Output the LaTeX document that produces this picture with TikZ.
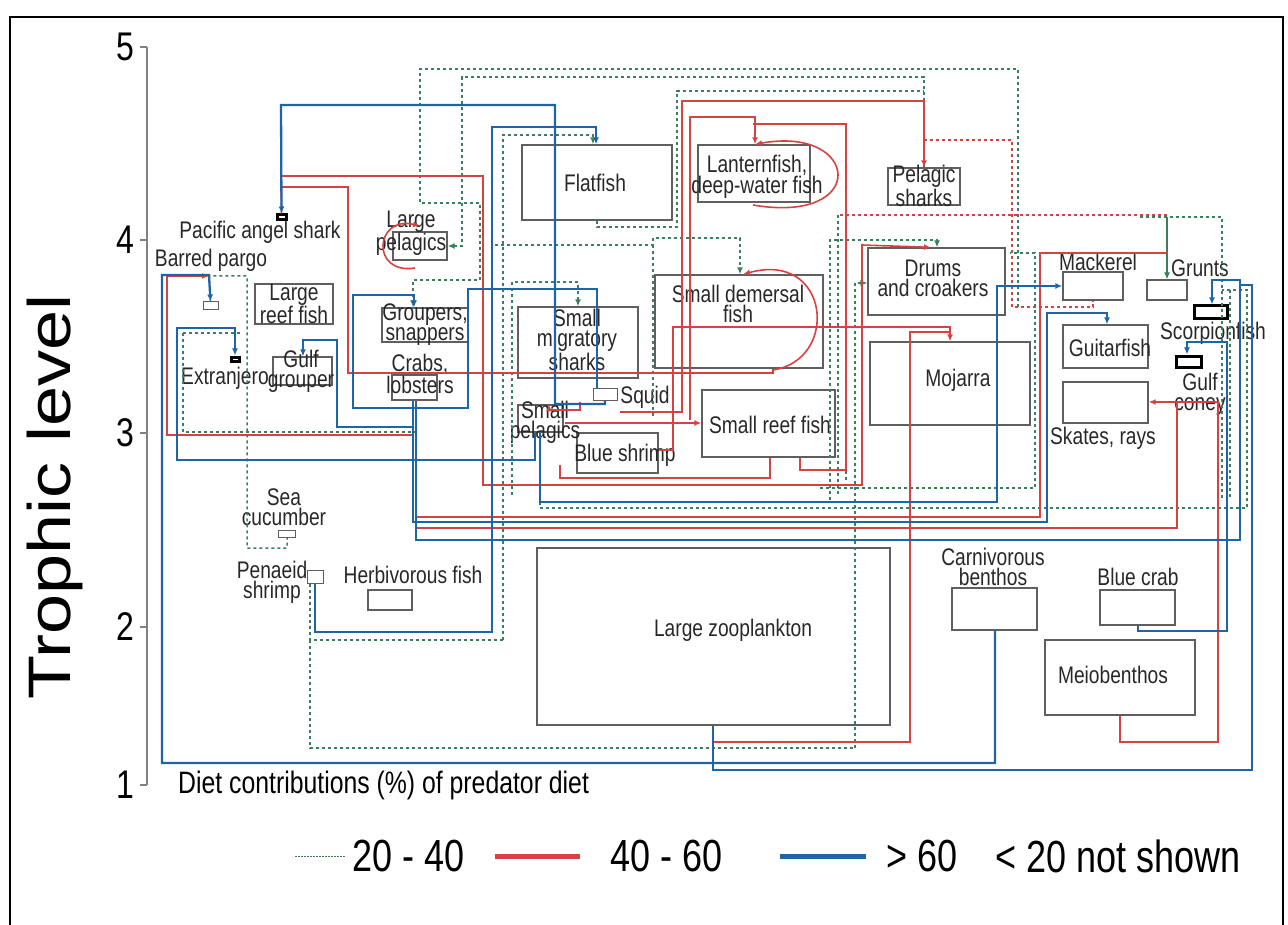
\documentclass[tikz,border=0pt]{standalone}
\usepackage{fontspec}
\setmainfont{Liberation Sans}[FakeStretch=0.8]
\newfontfamily\tallfont{Liberation Sans}[FakeStretch=1.2]
\usetikzlibrary{arrows.meta,fit}
\definecolor{blueweb}{RGB}{32,100,168}
\definecolor{redweb}{RGB}{214,66,66}
\definecolor{greenweb}{RGB}{58,128,92}
\definecolor{boxgray}{RGB}{95,95,95}
\definecolor{txtgray}{RGB}{40,40,40}
\begin{document}
\begin{tikzpicture}[x=1pt, y=-1pt, >={Latex[length=7pt,width=6pt]},
  box/.style={draw=boxgray, line width=1.3pt, inner sep=0pt},
  tinybox/.style={draw=boxgray, line width=1pt, inner sep=0pt},
  blkbox/.style={draw=black, line width=3pt, inner sep=0pt},
  lbl/.style={font=\fontsize{24}{20}\selectfont, align=center, text=txtgray, inner sep=0pt},
  legtxt/.style={font=\fontsize{45}{45}\selectfont, anchor=west, inner sep=0pt},
  bl/.style={draw=blueweb, line width=2.3pt},
  rd/.style={draw=redweb, line width=1.6pt},
  gr/.style={draw=greenweb, line width=1.5pt, dash pattern=on 3pt off 3pt},
  rdd/.style={draw=redweb, line width=1.5pt, dash pattern=on 3pt off 3pt}]
\useasboundingbox (0,0) rectangle (1288,925);
%Rahmen und Achse
\draw[line width=2pt] (10,925) -- (10,17) -- (1283,17) -- (1283,925);
\draw[gray, line width=1.5pt] (147,47) -- (147,785);
\foreach \v/\y in {5/47,4/240,3/433,2/627,1/785}{
  \draw[gray, line width=1.5pt] (140,\y) -- (147,\y);
  \node[font=\fontsize{40}{40}\selectfont, anchor=east, inner sep=0pt] (tick\v) at (134,\y) {\v};
}
\node[font=\tallfont\fontsize{60}{60}\selectfont, rotate=90, inner sep=0pt] (ylab) at (55,497) {Trophic level};

%Boxen
\node[box, fit={(522,145) (672,220)}] (flat) {};
\node[box, fit={(698,145) (810,202)}] (lantern) {};
\node[box, fit={(888,168) (960,205)}] (pshark) {};
\node[box, fit={(393,232) (447,260)}] (lpel) {};
\node[blkbox, fit={(277,215) (286,220)}] (angel) {};
\node[tinybox, fit={(203,302) (218,310)}] (pargo) {};
\node[box, fit={(255,284) (333,324)}] (lreef) {};
\node[box, fit={(382,308) (468,342)}] (group) {};
\node[box, fit={(392,375) (437,400)}] (crabs) {};
\node[box, fit={(273,357) (332,385)}] (ggroup) {};
\node[blkbox, fit={(231,357) (239,361)}] (extra) {};
\node[box, fit={(518,307) (638,378)}] (smig) {};
\node[box, fit={(655,275) (823,368)}] (sdem) {};
\node[tinybox, fit={(593,388) (617,400)}] (squid) {};
\node[box, fit={(518,405) (563,432)}] (spel) {};
\node[box, fit={(577,433) (658,473)}] (bshrimp) {};
\node[box, fit={(702,390) (835,457)}] (sreef) {};
\node[box, fit={(868,248) (1005,315)}] (drums) {};
\node[box, fit={(870,342) (1030,425)}] (moj) {};
\node[box, fit={(1063,272) (1123,300)}] (mack) {};
\node[box, fit={(1147,280) (1187,300)}] (grunts) {};
\node[box, fit={(1063,325) (1148,368)}] (guitar) {};
\node[box, fit={(1063,382) (1148,423)}] (skates) {};
\node[blkbox, fit={(1194,306) (1227,319)}] (scorp) {};
\node[blkbox, fit={(1176,356) (1201,367)}] (coney) {};
\node[tinybox, fit={(278,530) (295,537)}] (seacu) {};
\node[tinybox, fit={(307,570) (323,583)}] (penaeid) {};
\node[box, fit={(368,590) (412,610)}] (herb) {};
\node[box, fit={(537,548) (890,725)}] (zoo) {};
\node[box, fit={(952,588) (1037,630)}] (carn) {};
\node[box, fit={(1100,590) (1175,625)}] (bcrab) {};
\node[box, fit={(1045,640) (1195,715)}] (meio) {};

%Beschriftungen
\node[lbl] (flat-t) at (595,183) {Flatfish};
\node[lbl] (lantern-t) at (757,177) {Lanternfish,\\deep-water fish};
\node[lbl] (pshark-t) at (924,186) {Pelagic\\sharks};
\node[lbl] (lpel-t) at (411,233) {Large\\pelagics};
\node[lbl] (angel-t) at (260,232) {Pacific angel shark};
\node[lbl] (pargo-t) at (211,260) {Barred pargo};
\node[lbl] (lreef-t) at (294,304) {Large\\reef fish};
\node[lbl] (group-t) at (425,325) {Groupers,\\snappers};
\node[lbl] (crabs-t) at (420,374) {Crabs,\\lobsters};
\node[lbl] (ggroup-t) at (301,371) {Gulf\\grouper};
\node[lbl] (extra-t) at (225,378) {Extranjero};
\node[lbl] (smig-t) at (577,340) {Small\\migratory\\sharks};
\node[lbl] (sdem-t) at (738,304) {Small demersal\\fish};
\node[lbl] (squid-t) at (645,397) {Squid};
\node[lbl] (spel-t) at (545,422) {Small\\pelagics};
\node[lbl] (bshrimp-t) at (625,455) {Blue shrimp};
\node[lbl] (sreef-t) at (770,425) {Small reef fish};
\node[lbl] (drums-t) at (933,278) {Drums\\and croakers};
\node[lbl] (moj-t) at (958,380) {Mojarra};
\node[lbl] (mack-t) at (1098,262) {Mackerel};
\node[lbl] (grunts-t) at (1200,268) {Grunts};
\node[lbl] (guitar-t) at (1110,348) {Guitarfish};
\node[lbl] (skates-t) at (1103,438) {Skates, rays};
\node[lbl] (scorp-t) at (1213,333) {Scorpionfish};
\node[lbl] (coney-t) at (1200,394) {Gulf\\coney};
\node[lbl] (seacu-t) at (284,507) {Sea\\cucumber};
\node[lbl] (penaeid-t) at (272,582) {Penaeid\\shrimp};
\node[lbl] (herb-t) at (413,575) {Herbivorous fish};
\node[lbl] (zoo-t) at (733,630) {Large zooplankton};
\node[lbl] (carn-t) at (993,567) {Carnivorous\\benthos};
\node[lbl] (bcrab-t) at (1138,577) {Blue crab};
\node[lbl] (meio-t) at (1113,675) {Meiobenthos};

%20 - 40
\draw[gr,->] (1018,307) -- (1018,69) -- (420,69) -- (420,203) -- (480,203) -- (480,280) -- (413,280) -- (group.north -| 413,0);
\draw[gr,->] (pshark.north) -- (924,77) -- (462,77) -- (462,246) -- (lpel.east);
\draw[gr] (flat.south -| 597,0) -- (597,227) -- (677,227) -- (677,91) -- (924,91);
\draw[gr,->] (503,640) -- (503,135) -- (593,135) -- (flat.north -| 593,0);
\draw[gr,->] (512,495) -- (512,282) -- (578,282) -- (smig.north -| 578,0);
\draw[gr,->] (495,245) -- (653,245) -- (653,238) -- (740,238) -- (sdem.north -| 740,0);
\draw[gr] (653,245) -- (653,417);
\draw[gr,->] (830,500) -- (830,240) -- (937,240) -- (drums.north -| 937,0);
\draw[gr,->] (855,748) -- (855,283) -- (drums.west |- 0,283);
\draw[draw=greenweb, line width=1.2pt,->] (1167,217) -- (grunts.north -| 1167,0);
\draw[gr] (pargo.north) -- (209,276) -- (247,276) -- (247,548) -- (287,548) -- (seacu.south -| 287,0);
\draw[gr] (183,333) -- (240,333) (183,333) -- (183,432) -- (415,432);
\draw[gr] (penaeid.south -| 310,0) -- (310,640) -- (503,640) (310,640) -- (310,748) -- (855,748);
\draw[gr] (540,490) -- (540,508) -- (1247,508) -- (1247,290) -- (1222,290);
\draw[gr] (820,488) -- (1035,488) -- (1035,253) -- (1010,253);
\draw[gr] (838,215) -- (838,495) (846,225) -- (846,480) (1040,260) -- (1040,495);
\draw[gr] (1140,217) -- (1222,217) -- (1222,500) (1230,290) -- (1230,500);
\draw[rdd] (924,140) -- (1012,140) -- (1012,307) -- (1093,307) -- (mack.south -| 1093,0);
\draw[rdd] (840,215) -- (1167,215);

%40 - 60
\draw[rd,->] (angel.north) -- (281,176) -- (483,176) -- (483,485) -- (862,485) -- (862,245) -- (drums.north -| 931,0);
\draw[rd] (281,187) -- (348,187) -- (348,373) -- (773,373) -- (sdem.south -| 773,0);
\draw[rd,->] (zoo.south -| 713,0) -- (713,742) -- (910,742) -- (910,332) -- (950,332) -- (moj.north -| 950,0);
\draw[rd] (bshrimp.east |- 0,450) -- (673,450) -- (673,327) -- (950,327) -- (950,332);
\draw[rd,->] (565,423) -- (sreef.west |- 0,423);
\draw[rd,->] (580,402) -- (580,410) -- (549,410) -- (spel.north -| 549,0);
\draw[rd,->] (meio.south -| 1120,0) -- (1120,742) -- (1218,742) -- (1218,402) -- (skates.east |- 0,402);
\draw[rd] (416,400) -- (416,528) -- (1177,528) -- (1177,402);
\draw[rd] (416,517) -- (1040,517) -- (1040,253) -- (1167,253);
\draw[rd,->] (620,412) -- (682,412) -- (682,101) -- (924,101) -- (pshark.north);
\draw[rd,->] (690,420) -- (690,117) -- (755,117) -- (lantern.north -| 755,0);
\draw[rd] (sreef.south -| 800,0) -- (800,470) -- (846,470) -- (846,124) -- (753,124);
\draw[rd] (560,465) -- (560,478) -- (770,478) -- (sreef.south -| 770,0);
\draw[rd,->] (753,205) .. controls (870,225) and (860,125) .. (lantern.north -| 755,0);
\draw[rd,->] (773,370) .. controls (840,360) and (830,250) .. (sdem.north -| 743,0);
\draw[rd,->] (415,268) .. controls (370,275) and (375,215) .. (420,226);
\draw[rd,->] (413,435) -- (167,435) -- (167,276) -- (209,276);

%> 60
\draw[bl,->] (squid.south -| 605,0) -- (605,404) -- (555,404) -- (555,105) -- (281,105) -- (angel.north);
\draw[bl,->] (penaeid.south -| 315,0) -- (315,632) -- (492,632) -- (492,127) -- (596,127) -- (flat.north -| 596,0);
\draw[bl,->] (carn.south -| 995,0) -- (995,763) -- (162,763) -- (162,275) -- (209,275) -- (pargo.north);
\draw[bl,->] (spel.south -| 535,0) -- (535,460) -- (177,460) -- (177,328) -- (235,328) -- (extra.north);
\draw[bl,->] (spel.south -| 540,0) -- (540,502) -- (997,502) -- (997,286) -- (mack.west |- 0,286);
\draw[bl,->] (crabs.south -| 413,0) -- (413,522) -- (1047,522) -- (1047,313) -- (1107,313) -- (guitar.north -| 1107,0);
\draw[bl,->] (crabs.south -| 416,0) -- (416,540) -- (1240,540) -- (1240,280) -- (1212,280) -- (scorp.north -| 1212,0);
\draw[bl,->] (bcrab.south -| 1138,0) -- (1138,631) -- (1227,631) -- (1227,342) -- (1187,342) -- (coney.north -| 1187,0);
\draw[bl] (zoo.south -| 713,0) -- (713,770) -- (1252,770) -- (1252,285) -- (1240,285);
\draw[bl,->] (414,427) -- (337,427) -- (337,340) -- (303,340) -- (ggroup.north -| 303,0);
\draw[bl,->] (squid.north -| 597,0) -- (597,289) -- (468,289) -- (468,408) -- (353,408) -- (353,295) -- (414,295) -- (group.north -| 414,0);

%Legende
\node[font=\fontsize{31}{31}\selectfont, anchor=west, inner sep=0pt] (legtitle) at (178,785) {Diet contributions (\%) of predator diet};
\coordinate (g1) at (295,856); \coordinate (g2) at (345,856);
\coordinate (r1) at (495,856); \coordinate (r2) at (580,856);
\coordinate (b1) at (780,856); \coordinate (b2) at (866,856);
\draw[draw=greenweb, line width=1pt, dash pattern=on 1.5pt off 1.5pt] (g1) -- (g2);
\draw[draw=redweb, line width=5pt] (r1) -- (r2);
\draw[draw=blueweb, line width=5pt] (b1) -- (b2);
\node[legtxt] (leg1) at (352,856) {20 - 40};
\node[legtxt] (leg2) at (610,856) {40 - 60};
\node[legtxt] (leg3) at (886,856) {> 60};
\node[legtxt] (leg4) at (995,856) {< 20 not shown};
\end{tikzpicture}
\end{document}
